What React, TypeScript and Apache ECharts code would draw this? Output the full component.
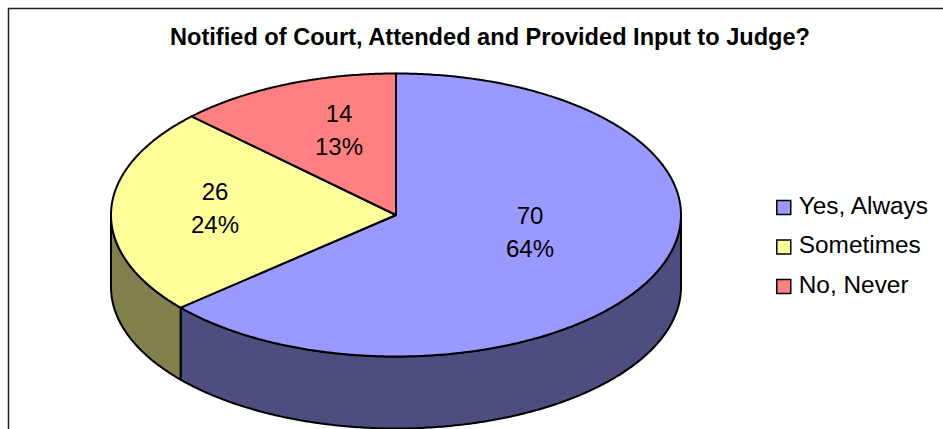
import React, { useEffect, useRef } from "react";
import * as echarts from "echarts";

const categories = ["Yes, Always", "Sometimes", "No, Never"];
const counts = [70, 26, 14];
const topColors = ["#9999FF", "#FFFF99", "#FF8080"];
const wallColors = ["#4D4D80", "#80804D", "#804040"];
const titleText = "Notified of Court, Attended and Provided Input to Judge?";

// Layout of the tilted pie (pixels)
const CX = 396;
const CY = 215;
const RX = 285;
const RY = 141.5;
const DEPTH = 72;
const labelOffsets: [number, number][] = [
  [134, 17],
  [-181, -7],
  [-57, -85],
];
const FONT = '"Liberation Sans", Arial, sans-serif';

const total = counts.reduce((a, b) => a + b, 0);
const fracs = counts.map((v) => v / total);
const starts = fracs.map((_, i) => fracs.slice(0, i).reduce((a, b) => a + b, 0) * Math.PI * 2);

// angle measured clockwise from 12 o'clock
const pt = (a: number, dy = 0): [number, number] => [CX + RX * Math.sin(a), CY - RY * Math.cos(a) + dy];

const arc = (a0: number, a1: number, dy = 0) => {
  const n = Math.max(2, Math.ceil((a1 - a0) / 0.01));
  const pts: [number, number][] = [];
  for (let i = 0; i <= n; i++) pts.push(pt(a0 + ((a1 - a0) * i) / n, dy));
  return pts;
};

const renderSlice = (idx: number) => () => {
  const a0 = starts[idx];
  const a1 = a0 + fracs[idx] * Math.PI * 2;
  const children: any[] = [];
  const w0 = Math.max(a0, Math.PI / 2);
  const w1 = Math.min(a1, Math.PI * 1.5);
  if (w1 > w0) {
    children.push({
      type: "polygon",
      shape: { points: [...arc(w0, w1), ...arc(w0, w1, DEPTH).reverse()] },
      style: { fill: wallColors[idx], stroke: "#000", lineWidth: 2, lineJoin: "round" },
    });
  }
  children.push({
    type: "polygon",
    shape: { points: [[CX, CY], ...arc(a0, a1)] },
    style: { fill: topColors[idx], stroke: "#000", lineWidth: 2, lineJoin: "round" },
  });
  const [ox, oy] = labelOffsets[idx];
  const lines = [String(counts[idx]), `${Math.round(fracs[idx] * 100)}%`];
  lines.forEach((t, k) => {
    children.push({
      type: "text",
      z2: 10,
      style: {
        text: t,
        x: CX + ox,
        y: CY + oy + (k === 0 ? -16.5 : 16.5),
        fill: "#000",
        font: `24px ${FONT}`,
        align: "center",
        verticalAlign: "middle",
      },
    });
  });
  return { type: "group", children };
};

export default function App() {
  const ref = useRef<HTMLDivElement>(null);
  useEffect(() => {
    document.body.style.margin = "0";
    const chart = echarts.init(ref.current!, undefined, { renderer: "svg" });
    chart.setOption({
      animation: false,
      backgroundColor: "#fff",
      title: {
        text: titleText,
        left: 485,
        top: 20,
        textAlign: "center",
        textStyle: { fontFamily: FONT, fontWeight: "bold", fontSize: 23.6, color: "#000" },
      },
      legend: {
        orient: "vertical",
        left: 771,
        top: 188,
        itemWidth: 14,
        itemHeight: 14,
        itemGap: 15.5,
        icon: "rect",
        selectedMode: false,
        data: categories,
        formatter: (n: string) => `{t|${n}}`,
        textStyle: {
          rich: { t: { fontFamily: FONT, fontSize: 24.4, color: "#000", padding: [0, 0, 5, 3] } },
        },
        itemStyle: { borderColor: "#000", borderWidth: 1.5 },
      },
      graphic: [
        {
          type: "rect",
          silent: true,
          shape: { x: 8.5, y: 8.5, width: 1000, height: 600 },
          style: { fill: "transparent", stroke: "#222", lineWidth: 1.5 },
        },
      ],
      series: categories.map((name, i) => ({
        type: "custom",
        name,
        coordinateSystem: "none",
        renderItem: renderSlice(i),
        itemStyle: { color: topColors[i] },
        data: [counts[i]],
      })),
    });
    return () => chart.dispose();
  }, []);
  return <div ref={ref} style={{ width: 943, height: 429 }} />;
}
